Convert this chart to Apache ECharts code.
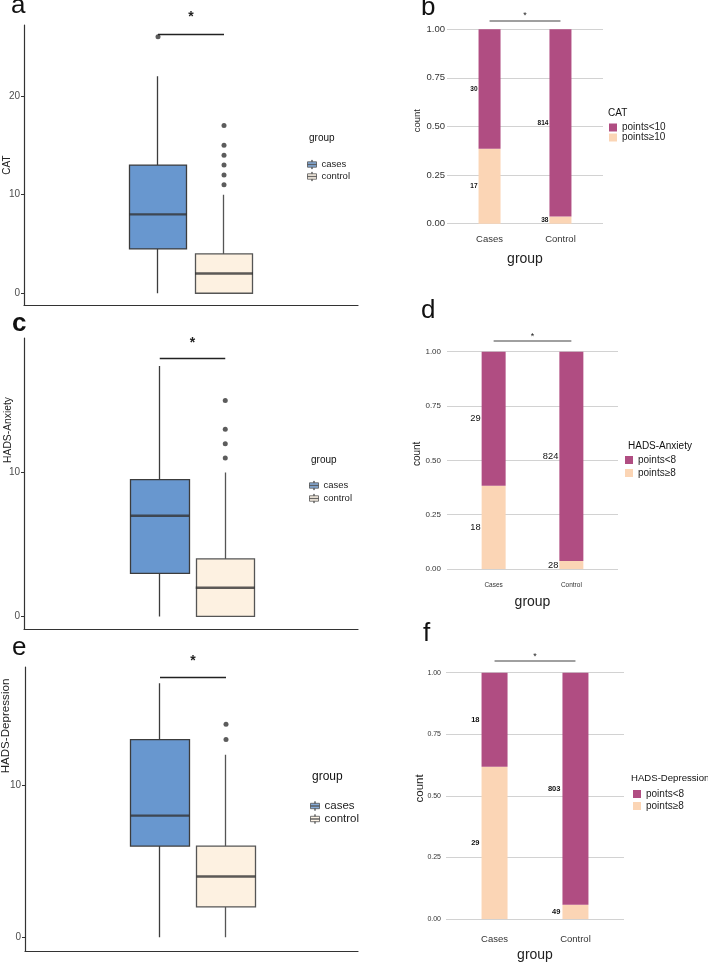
<!DOCTYPE html>
<html lang="en">
<head>
    <meta charset="UTF-8">
    <title>CAT and HADS by group</title>
    <style>html, body { margin: 0; padding: 0; background: #fff; }</style>
</head>
<body>

    <div id="echarts" style="width: 708px; height: 963px"></div>
    <script src="https://cdn.jsdelivr.net/npm/echarts@6.0.0/dist/echarts.min.js"></script>
    <script>
        // ---- data ----
        const groups = ['cases', 'control'];
        const barGroups = ['Cases', 'Control'];

        // box stats [min, Q1, median, Q3, max]
        const catBox = [[0, 4.5, 8, 13, 22], [0, 0, 2, 4, 10]];
        const catOutliers = [[26], [11, 12, 13, 14, 15, 17]];
        const anxBox = [[0, 3, 7, 9.5, 17.4], [0, 0, 2, 4, 10]];
        const anxOutliers = [[], [11, 12, 13, 15]];
        const depBox = [[0, 6, 8, 13, 16.7], [0, 2, 4, 6, 12]];
        const depOutliers = [[], [13, 14]];
        const boxTicks = [0, 10, 20];

        // stacked shares (low score on top, high score at the bottom) and the counts printed on them
        const catLowShare = [0.615, 0.963];
        const catHighShare = [0.385, 0.037];
        const catLowN = [30, 814];
        const catHighN = [17, 38];
        const anxLowShare = [0.617, 0.963];
        const anxHighShare = [0.383, 0.037];
        const anxLowN = [29, 824];
        const anxHighN = [18, 28];
        const depLowShare = [0.382, 0.942];
        const depHighShare = [0.618, 0.058];
        const depLowN = [18, 803];
        const depHighN = [29, 49];
        const shareTicks = [0, 0.25, 0.5, 0.75, 1];

        const FONT = '"Liberation Sans", Arial, sans-serif';
        const boxFill = ['#6897cf', '#fdf1e1'];
        const boxEdge = ['#3c3c3c', '#555555'];
        const PURPLE = '#b04d82';
        const PEACH = '#fbd5b5';
        const boxIcon = 'path://M0,2L10,2L10,8L0,8Z M0,4.8L10,4.8L10,5.2L0,5.2Z M4.8,0L5.2,0L5.2,2L4.8,2Z M4.8,8L5.2,8L5.2,10L4.8,10Z';

        const grid = [], xAxis = [], yAxis = [], series = [], legend = [], title = [];

        function addGrid(left, top, width, height) {
            grid.push({ left: left, top: top, width: width, height: height, outerBoundsMode: 'none', containLabel: false });
            return grid.length - 1;
        }

        function addText(text, left, top, size, bold) {
            title.push({
                text: text, left: left, top: top, padding: 0,
                textStyle: { fontSize: size, fontWeight: bold ? 'bold' : 'normal', color: '#111', fontFamily: FONT }
            });
        }

        function addBoxPanel(p) {
            // outer frame: axis lines, ticks, y name
            const a = addGrid(p.left, p.top, p.width, p.height);
            xAxis.push({
                type: 'category', gridIndex: a, data: [''],
                axisLine: { onZero: false, lineStyle: { color: '#333', width: 1.2 } },
                axisTick: { show: false }, axisLabel: { show: false }
            });
            yAxis.push({
                type: 'value', gridIndex: a, min: p.range[0], max: p.range[1],
                splitLine: { show: false },
                axisLine: { show: true, onZero: false, lineStyle: { color: '#333', width: 1.2 } },
                axisTick: { show: true, length: 3, customValues: boxTicks, lineStyle: { color: '#333' } },
                axisLabel: { customValues: boxTicks, color: '#4d4d4d', fontSize: 10, margin: 4, fontFamily: FONT },
                name: p.name, nameLocation: 'middle', nameGap: p.nameGap, nameMoveOverlap: false,
                nameTextStyle: { fontSize: p.nameSize, color: '#222', fontFamily: FONT, padding: p.namePad }
            });

            // inner band where the two dodged boxes sit
            const b = addGrid(p.boxLeft, p.top, p.boxStep * 2, p.height);
            xAxis.push({ type: 'category', gridIndex: b, data: groups, show: false });
            yAxis.push({ type: 'value', gridIndex: b, min: p.range[0], max: p.range[1], show: false });

            // box + whiskers (no caps, like ggplot) as candlesticks: [Q1, Q3, min, max]
            series.push({
                type: 'candlestick', xAxisIndex: b, yAxisIndex: b, barWidth: p.boxW,
                data: p.box.map((v, i) => ({
                    value: [v[1], v[3], v[0], v[4]],
                    itemStyle: { color: boxFill[i], color0: boxFill[i], borderColor: boxEdge[i], borderColor0: boxEdge[i], borderWidth: 1.3 }
                })),
                markLine: {
                    silent: true, symbol: ['none', 'none'], animation: false,
                    lineStyle: { color: '#222', width: 1.3, type: 'solid' },
                    label: { show: true, position: 'middle', formatter: '*', fontSize: 14, fontWeight: 'bold', color: '#222', distance: p.starGap, fontFamily: FONT },
                    data: [[{ coord: [groups[0], p.bracket] }, { coord: [groups[1], p.bracket] }]]
                }
            });
            // medians
            series.push({
                type: 'scatter', xAxisIndex: b, yAxisIndex: b, symbol: 'rect', symbolSize: [p.boxW, 2.4],
                itemStyle: { color: '#333' }, z: 5,
                data: p.box.map((v, i) => [groups[i], v[2]])
            });
            // outliers
            series.push({
                type: 'scatter', xAxisIndex: b, yAxisIndex: b, symbolSize: 5,
                itemStyle: { color: '#333' },
                data: p.outliers.flatMap((vals, i) => vals.map(v => [groups[i], v]))
            });
            groups.forEach((g, i) => series.push({
                type: 'scatter', name: g, xAxisIndex: b, yAxisIndex: b, data: [],
                itemStyle: { color: boxFill[i], borderColor: '#555', borderWidth: 1 }
            }));

            addText('group', p.legLeft + 2, p.legTitleTop, p.legSize + 0.5);
            legend.push({
                left: p.legLeft, top: p.legTop, orient: 'vertical', padding: 0,
                itemGap: p.legGap, itemWidth: 9, itemHeight: 10, selectedMode: false,
                data: groups.map((g, i) => ({
                    name: g, icon: boxIcon,
                    itemStyle: { color: boxFill[i], borderColor: '#555', borderWidth: 1 }
                })),
                textStyle: { fontSize: p.legSize, color: '#222', fontFamily: FONT }
            });
        }

        function addBarPanel(p) {
            // outer frame: grid lines, tick labels, axis names (ggplot spacing 0.4..2.6)
            const k = addGrid(p.left, p.top, p.width, p.height);
            xAxis.push({
                type: 'value', gridIndex: k, min: 0.4, max: 2.6,
                splitLine: { show: false }, axisLine: { show: false },
                axisTick: { show: false, customValues: [1, 2] },
                axisLabel: {
                    customValues: [1, 2], formatter: v => barGroups[v - 1],
                    fontSize: p.xTickSize, color: '#333', margin: p.xMargin, fontFamily: FONT
                },
                name: 'group', nameLocation: 'middle', nameGap: p.xNameGap, nameMoveOverlap: false,
                nameTextStyle: { fontSize: 14, color: '#222', fontFamily: FONT }
            });
            yAxis.push({
                type: 'value', gridIndex: k, min: 0, max: 1.06,
                axisLine: { show: false },
                axisTick: { show: false, customValues: shareTicks },
                axisLabel: {
                    customValues: shareTicks, formatter: v => v.toFixed(2),
                    fontSize: p.yTickSize, color: '#333', margin: p.yMargin, fontFamily: FONT
                },
                splitLine: { show: true, lineStyle: { color: '#d2d2d2', width: 1 } },
                name: 'count', nameLocation: 'middle', nameGap: p.yNameGap, nameMoveOverlap: false,
                nameTextStyle: { fontSize: p.yNameSize, color: '#222', fontFamily: FONT }
            });

            // inner category band holding the stacked bars
            const unit = p.width / 2.2;
            const b = addGrid(p.left + 0.1 * unit, p.top, 2 * unit, p.height);
            xAxis.push({ type: 'category', gridIndex: b, data: barGroups, show: false });
            yAxis.push({ type: 'value', gridIndex: b, min: 0, max: 1.06, show: false });

            const lbl = (counts) => ({
                show: true, position: 'left', distance: p.labelGap,
                formatter: d => counts[d.dataIndex],
                fontSize: p.labelSize, fontWeight: p.labelBold ? 'bold' : 'normal',
                color: '#111', fontFamily: FONT
            });
            series.push({
                type: 'bar', name: p.names[1], stack: 'share' + b, xAxisIndex: b, yAxisIndex: b,
                barWidth: p.barW, itemStyle: { color: PEACH },
                data: p.high,
                label: lbl(p.highN),
                markLine: {
                    silent: true, symbol: ['none', 'none'], animation: false,
                    lineStyle: { color: '#808080', width: 1.5, type: 'solid' },
                    label: { show: true, position: 'middle', formatter: '*', fontSize: 9, color: '#222', distance: 0, fontFamily: FONT },
                    data: [[{ coord: [barGroups[0], p.bracket] }, { coord: [barGroups[1], p.bracket] }]]
                }
            });
            series.push({
                type: 'bar', name: p.names[0], stack: 'share' + b, xAxisIndex: b, yAxisIndex: b,
                barWidth: p.barW, itemStyle: { color: PURPLE },
                data: p.low,
                label: lbl(p.lowN)
            });

            addText(p.legTitle, p.legLeft, p.legTitleTop, p.legTitleSize);
            legend.push({
                left: p.legLeft + p.keyShift, top: p.legTop, orient: 'vertical', padding: 0,
                itemGap: p.legGap, itemWidth: 8, itemHeight: 8, selectedMode: false,
                data: [
                    { name: p.names[0], icon: 'rect', itemStyle: { color: PURPLE, borderWidth: 0 } },
                    { name: p.names[1], icon: 'rect', itemStyle: { color: PEACH, borderWidth: 0 } }
                ],
                textStyle: { fontSize: 10, color: '#222', fontFamily: FONT, lineHeight: p.legLine }
            });
        }

        // panel letters
        addText('a', 11, -7, 26);
        addText('b', 421, -5, 26);
        addText('c', 12, 311, 26, true);
        addText('d', 421, 298, 26);
        addText('e', 12, 635, 26);
        addText('f', 423, 621, 26);

        addBoxPanel({
            left: 24, top: 25, width: 334, height: 280, range: [-1.19, 27.2],
            boxLeft: 125, boxStep: 66, boxW: 58,
            box: catBox, outliers: catOutliers, bracket: 26.3, starGap: 10,
            name: 'CAT', nameSize: 10, nameGap: 12, namePad: [0, 0, 0, 0],
            legLeft: 307, legTop: 159.5, legTitleTop: 133, legGap: 2, legSize: 9.5
        });
        addBoxPanel({
            left: 24, top: 338, width: 334, height: 291, range: [-0.87, 19.34],
            boxLeft: 127, boxStep: 65.5, boxW: 59,
            box: anxBox, outliers: anxOutliers, bracket: 17.9, starGap: 9,
            name: 'HADS-Anxiety', nameSize: 10.3, nameGap: 11, namePad: [0, 0, 0, 107],
            legLeft: 309, legTop: 480.5, legTitleTop: 455, legGap: 3, legSize: 9.5
        });
        addBoxPanel({
            left: 25, top: 667, width: 333, height: 284, range: [-0.9, 17.77],
            boxLeft: 127, boxStep: 66, boxW: 59,
            box: depBox, outliers: depOutliers, bracket: 17.1, starGap: 9,
            name: 'HADS-Depression', nameSize: 11.6, nameGap: 13, namePad: [0, 0, 0, 166],
            legLeft: 310, legTop: 800, legTitleTop: 771, legGap: 1, legSize: 11.5
        });

        addBarPanel({
            left: 447, top: 17.6, width: 156, height: 206.1,
            low: catLowShare, high: catHighShare, lowN: catLowN, highN: catHighN,
            names: ['points<10', 'points≥10'], bracket: 1.046, barW: 22,
            labelSize: 6.5, labelBold: true, labelGap: 1,
            xTickSize: 9.5, xMargin: 11, xNameGap: 28, yTickSize: 9.5, yMargin: 2, yNameGap: 25, yNameSize: 9.5,
            legTitle: 'CAT', legTitleSize: 10, legLeft: 608, legTitleTop: 108, keyShift: 1, legTop: 122.5, legGap: 0, legLine: 9.5
        });
        addBarPanel({
            left: 447, top: 338.7, width: 171, height: 230.3,
            low: anxLowShare, high: anxHighShare, lowN: anxLowN, highN: anxHighN,
            names: ['points<8', 'points≥8'], bracket: 1.049, barW: 24,
            labelSize: 9.3, labelBold: false, labelGap: 1,
            xTickSize: 6.5, xMargin: 13, xNameGap: 26, yTickSize: 8, yMargin: 6, yNameGap: 25, yNameSize: 10,
            legTitle: 'HADS-Anxiety', legTitleSize: 10, legLeft: 628, legTitleTop: 441, keyShift: -3, legTop: 455, legGap: 3, legLine: 10
        });
        addBarPanel({
            left: 446, top: 657.9, width: 178, height: 261.1,
            low: depLowShare, high: depHighShare, lowN: depLowN, highN: depHighN,
            names: ['points<8', 'points≥8'], bracket: 1.047, barW: 26,
            labelSize: 7.5, labelBold: true, labelGap: 2,
            xTickSize: 9.5, xMargin: 15, xNameGap: 29, yTickSize: 7, yMargin: 5, yNameGap: 20, yNameSize: 11.5,
            legTitle: 'HADS-Depression', legTitleSize: 9.6, legLeft: 631, legTitleTop: 773, keyShift: 2, legTop: 789, legGap: 2, legLine: 10
        });

        const option = {
            animation: false,
            backgroundColor: '#fff',
            textStyle: { fontFamily: FONT },
            title: title,
            legend: legend,
            grid: grid,
            xAxis: xAxis,
            yAxis: yAxis,
            series: series
        };

        var chartDom = document.getElementById("echarts");
        var myChart = echarts.init(chartDom);
        myChart.setOption(option);
    </script>
</body>
</html>
